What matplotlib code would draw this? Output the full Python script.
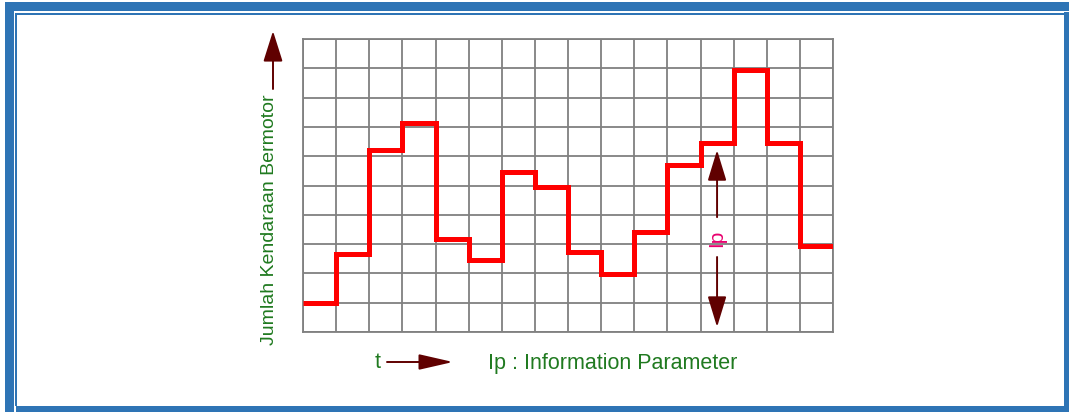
import matplotlib
matplotlib.use('Agg')
import matplotlib.pyplot as plt
from matplotlib.patches import Rectangle, FancyArrowPatch

# step levels (in grid rows) for each of the 16 time slots
levels = [1.0, 2.65, 6.2, 7.15, 3.17, 2.46, 5.45, 4.96, 2.72, 1.97, 3.42, 5.7, 6.44, 8.94, 6.44, 2.93]
edges = list(range(len(levels) + 1))
n_rows = 10

ylabel = 'Jumlah Kendaraan Bermotor'
xlabel = 'Ip : Information Parameter'
tlabel = 't'
iplabel = 'Ip'

W, H = 1069, 412
blue = '#2e74b5'
green = '#207a20'
darkred = '#600000'
plt.rcParams['font.family'] = ['Liberation Sans', 'DejaVu Sans']

fig = plt.figure(figsize=(W / 100, H / 100), dpi=100)

# overlay in pixel coords for frame and outside labels
ov = fig.add_axes([0, 0, 1, 1], zorder=3)
ov.set_xlim(0, W)
ov.set_ylim(H, 0)
ov.axis('off')
ov.patch.set_alpha(0)

def bar(x0, y0, x1, y1):
  ov.add_patch(Rectangle((x0, y0), x1 - x0, y1 - y0, color=blue, lw=0))

bar(5, 2, W, 11)        # top thick
bar(5, 2, 14, H)        # left thick
bar(15, 13, 1064, 15)   # inner top
bar(15, 13, 17, 406)    # inner left
bar(1064, 12, W, H)     # right thick
bar(16, 406, W, H)      # bottom thick

# main grid
ax = fig.add_axes([303 / W, (H - 332) / H, 530 / W, 293 / H], zorder=2)
ax.set_xlim(0, len(levels))
ax.set_ylim(0, n_rows)
ax.set_xticks(edges)
ax.set_yticks(range(n_rows + 1))
ax.tick_params(length=0, labelbottom=False, labelleft=False)
ax.grid(True, color='#808080', lw=1.3)
for s in ax.spines.values():
  s.set_color('#808080')
  s.set_linewidth(1.3)

ax.stairs(levels, edges, baseline=None, color='#ff0000', lw=3.6, zorder=3)

# d arrows inside the grid
def arrow(a, x0, y0, x1, y1, hl, hw, lw=1.4):
  a.add_patch(FancyArrowPatch((x0, y0), (x1, y1),
              arrowstyle='-|>,head_length=%g,head_width=%g' % (hl, hw),
              mutation_scale=1, color=darkred, lw=lw, shrinkA=0, shrinkB=0,
              zorder=4))

arrow(ax, 12.5, 3.92, 12.5, 6.21, 19, 5.8)
arrow(ax, 12.5, 2.56, 12.5, 0.17, 19, 5.8)
ax.text(12.5, 3.2, iplabel, color='#e8006e', fontsize=15, rotation=90,
        ha='center', va='center', zorder=4)

# outside labels
ov.text(269, 220, ylabel, color=green, fontsize=14, rotation=90,
        ha='center', va='center')
arrow(ov, 273, 89, 273, 31, 19, 6)
ov.text(378, 363, tlabel, color=green, fontsize=15.5, ha='center', va='center')
arrow(ov, 387, 362, 453, 362, 21, 4.8)
ov.text(488, 363, xlabel, color=green, fontsize=15.5, ha='left', va='center')

fig.savefig('out.png', dpi=100)
